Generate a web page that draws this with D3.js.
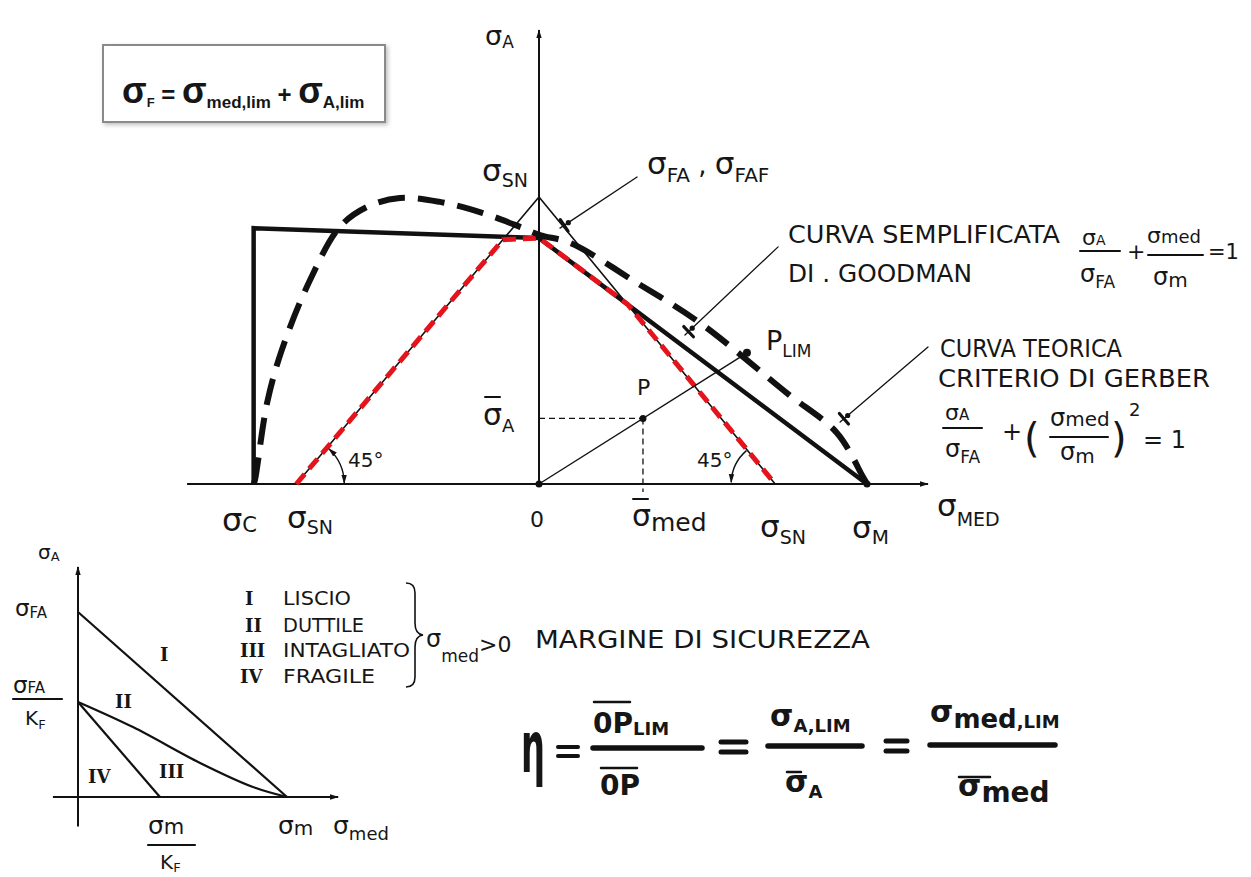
<!DOCTYPE html>
<html>
<head>
<meta charset="utf-8">
<script src="https://cdn.jsdelivr.net/npm/d3@7"></script>
<style>
  body { margin: 0; background: #fff; }
  svg { display: block; }
  text { font-family: "DejaVu Sans", sans-serif; fill: #161616; }
</style>
</head>
<body>
<svg id="c" width="1251" height="877"></svg>
<script>
// ---- Haigh diagram data (σmed and σA in % of σM) ----
const axisMed = [-107.3, 119.2];          // extent of the σmed axis
const axisAmp = 139;                       // top of the σA axis
const envelope = [[-87, 0], [-87, 78], [0, 75], [100, 0]];          // simplified Goodman envelope
const yieldTriangle = [[-74, 0], [0, 87.5], [72, 0]];               // σSN limits
const safeRegion = [[-74, 0], [-11, 74.5], [0, 75], [27, 54.8], [72, 0]];
const gerber = [[-87, 0], [-86.6, 1.2], [-82.9, 24.7], [-78.4, 40.9], [-69.8, 62.2], [-60.7, 78.4],
  [-52.4, 84.5], [-42.4, 87.2], [-30.2, 86.0], [-17.1, 82.6], [-5.8, 78.4], [0.3, 75.9],
  [9.5, 73.5], [29.9, 61.3], [49.1, 49.1], [75.6, 27.7], [90.9, 15.5], [98.8, 2.1], [100, 0]];
const pointO = [0, 0];
const pointP = [31.7, 20];
const pointPlim = [63.4, 40];
const pointM = [100, 0];
// leader lines: [label end, curve end]
const leaders = [
  [[29.9, 93.6], [6.4, 78]],     // σFA, σFAF
  [[72.9, 72.3], [44.5, 45.4]],  // Goodman
  [[118.6, 41.8], [91.8, 18.9]]  // Gerber
];

// ---- small diagram data (σmed in % of σm, σA in % of σFA) ----
const smallAxisMed = [-12, 125.4];
const smallAxisAmp = [-16, 125.4];
const lineLiscio = [[0, 100], [100, 0]];
const lineIntagliato = [[0, 51.4], [26.3, 37.8], [58.4, 18.4], [83.7, 5.4], [100, 0]];
const lineFragile = [[0, 51.4], [39.2, 0]];
const romans = ["I", "II", "III", "IV"];
const surfaces = ["LISCIO", "DUTTILE", "INTAGLIATO", "FRAGILE"];

const svg = d3.select("#c");
svg.append("rect").attr("width", 1251).attr("height", 877).attr("fill", "#fff");

const defs = svg.append("defs");
defs.append("marker").attr("id", "arr").attr("viewBox", "0 0 10 6")
  .attr("refX", 9).attr("refY", 3).attr("markerWidth", 9).attr("markerHeight", 6)
  .attr("markerUnits", "userSpaceOnUse").attr("orient", "auto-start-reverse")
  .append("path").attr("d", "M0,0 L10,3 L0,6 Z").attr("fill", "#111");
const shadow = defs.append("filter").attr("id", "sh").attr("x", "-10%").attr("y", "-20%")
  .attr("width", "130%").attr("height", "150%");
shadow.append("feDropShadow").attr("dx", 2).attr("dy", 2).attr("stdDeviation", 2)
  .attr("flood-color", "#000").attr("flood-opacity", 0.25);

// ---- helpers ----
function rich(g, px, py, parts, o = {}) {
  const t = g.append("text").attr("x", px).attr("y", py);
  if (o.weight) t.attr("font-weight", o.weight);
  if (o.family) t.style("font-family", o.family);
  if (o.anchor) t.attr("text-anchor", o.anchor);
  let cur = 0;
  parts.forEach(([s, size, dy = 0]) => {
    t.append("tspan").attr("font-size", size).attr("dy", dy - cur).text(s);
    cur = dy;
  });
  return t;
}
// hand-lettered capitals: slightly tall, evenly spaced
function caps(g, px, py, s, size, width) {
  return g.append("text").attr("transform", `translate(${px},${py}) scale(1,1.15)`)
    .attr("font-size", size).attr("textLength", width).attr("lengthAdjust", "spacingAndGlyphs").text(s);
}
function roman(g, px, py, s, size) {
  return g.append("text").attr("x", px).attr("y", py).attr("font-size", size)
    .attr("font-weight", "bold").style("font-family", "'DejaVu Serif', serif").text(s);
}
function seg(g, x1, y1, x2, y2, w, color = "#111") {
  return g.append("line").attr("x1", x1).attr("y1", y1).attr("x2", x2).attr("y2", y2)
    .attr("stroke", color).attr("stroke-width", w).attr("stroke-linecap", "round");
}

// ---- top-left formula box ----
const box = svg.append("g");
box.append("rect").attr("x", 103).attr("y", 45).attr("width", 282).attr("height", 77)
  .attr("fill", "#fff").attr("stroke", "#8a8a8a").attr("stroke-width", 2).attr("filter", "url(#sh)");
rich(box, 122, 103, [["σ", 36], ["F", 13, 4], [" = ", 24, 0], ["σ", 36, 0], ["med,lim", 17, 5],
  [" + ", 24, 0], ["σ", 36, 0], ["A,lim", 17, 5]], { weight: "bold", family: "'Liberation Sans', Arial, sans-serif" });

// ---- main Haigh diagram ----
const x = d3.scaleLinear().domain([0, 100]).range([539, 867]);
const y = d3.scaleLinear().domain([0, 100]).range([484, 156]);
const line = d3.line().x(d => x(d[0])).y(d => y(d[1]));
const main = svg.append("g");

// axes
main.append("line").attr("x1", x(axisMed[0])).attr("x2", x(axisMed[1]) - 2)
  .attr("y1", y(0)).attr("y2", y(0)).attr("stroke", "#111").attr("stroke-width", 2.2)
  .attr("marker-end", "url(#arr)");
main.append("line").attr("x1", x(0)).attr("x2", x(0)).attr("y1", y(0)).attr("y2", y(axisAmp) + 2)
  .attr("stroke", "#111").attr("stroke-width", 2).attr("marker-end", "url(#arr)");

// thin σSN triangle
main.append("path").attr("d", line(yieldTriangle)).attr("fill", "none")
  .attr("stroke", "#111").attr("stroke-width", 1.6);

// simplified envelope
main.append("path").attr("d", line(envelope)).attr("fill", "none")
  .attr("stroke", "#111").attr("stroke-width", 4.5).attr("stroke-linejoin", "miter");

// safe region (red dashed)
main.append("path").attr("d", line(safeRegion)).attr("fill", "none")
  .attr("stroke", "#e3141c").attr("stroke-width", 5).attr("stroke-dasharray", "13 7");

// Gerber parabola (thick dashed)
main.append("path").attr("d", line.curve(d3.curveCatmullRom)(gerber)).attr("fill", "none")
  .attr("stroke", "#111").attr("stroke-width", 6).attr("stroke-dasharray", "27 13");
line.curve(d3.curveLinear);

// load line O–P–Plim and projections of P
main.append("line").attr("x1", x(pointO[0])).attr("y1", y(pointO[1]))
  .attr("x2", x(pointPlim[0])).attr("y2", y(pointPlim[1])).attr("stroke", "#111").attr("stroke-width", 1.4);
main.append("line").attr("x1", x(0)).attr("y1", y(pointP[1])).attr("x2", x(pointP[0])).attr("y2", y(pointP[1]))
  .attr("stroke", "#111").attr("stroke-width", 1.3).attr("stroke-dasharray", "6 4");
main.append("line").attr("x1", x(pointP[0])).attr("y1", y(pointP[1])).attr("x2", x(pointP[0])).attr("y2", y(0) + 8)
  .attr("stroke", "#111").attr("stroke-width", 1.3).attr("stroke-dasharray", "6 4");

[pointO, pointP, pointM].forEach(p => main.append("circle").attr("cx", x(p[0])).attr("cy", y(p[1]))
  .attr("r", 3.5).attr("fill", "#111"));
main.append("circle").attr("cx", x(pointPlim[0])).attr("cy", y(pointPlim[1])).attr("r", 4).attr("fill", "#111");

// leader lines with end ticks
leaders.forEach(([a, b]) => {
  const x1 = x(a[0]), y1 = y(a[1]), x2 = x(b[0]), y2 = y(b[1]);
  seg(main, x1, y1, x2, y2, 1.3);
  const L = Math.hypot(x1 - x2, y1 - y2), ux = (x1 - x2) / L, uy = (y1 - y2) / L;
  const px = -uy, py = ux, cx = x2 + ux * 5, cy = y2 + uy * 5;
  seg(main, cx - px * 7, cy - py * 7, cx + px * 7, cy + py * 7, 3.2);
  main.append("circle").attr("cx", x2 + ux * 10).attr("cy", y2 + uy * 10).attr("r", 2.6).attr("fill", "#111");
});

// 45° angle arcs
const arcL = d3.path(); arcL.arc(x(-74), y(0), 48, -0.02, -0.82, true);
main.append("path").attr("d", arcL.toString()).attr("fill", "none").attr("stroke", "#111")
  .attr("stroke-width", 1.4).attr("marker-start", "url(#arr)").attr("marker-end", "url(#arr)");
const arcR = d3.path(); arcR.arc(x(72), y(0), 44, Math.PI + 0.86, Math.PI + 0.04, true);
main.append("path").attr("d", arcR.toString()).attr("fill", "none").attr("stroke", "#111")
  .attr("stroke-width", 1.4).attr("marker-end", "url(#arr)");

// main labels
const T = svg.append("g");
rich(T, 485, 45, [["σ", 27], ["A", 17, 3]]);
rich(T, 482, 181, [["σ", 31], ["SN", 19, 6]]);
rich(T, 647, 174, [["σ", 31], ["FA", 20, 8], [" , ", 26, 0], ["σ", 31, 0], ["FAF", 20, 8]]);
rich(T, 222, 531, [["σ", 32], ["C", 21, 1]]);
rich(T, 287, 528, [["σ", 31], ["SN", 19, 6]]);
rich(T, 537, 527, [["0", 22]], { anchor: "middle" });
rich(T, 632, 526, [["σ", 30], ["med", 25, 5]]);
seg(T, 633, 499, 648, 499, 2);
rich(T, 760, 537, [["σ", 31], ["SN", 19, 7]]);
rich(T, 852, 538, [["σ", 31], ["M", 20, 6]]);
rich(T, 937, 516, [["σ", 31], ["MED", 19, 10]]);
rich(T, 483, 425, [["σ", 30], ["A", 18, 7]]);
seg(T, 485, 397, 500, 397, 2);
rich(T, 637, 395, [["P", 22]]);
rich(T, 766, 350, [["P", 27], ["LIM", 17, 7]]);
rich(T, 348, 467, [["45°", 20]]);
rich(T, 697, 467, [["45°", 20]]);

// Goodman annotation
caps(T, 788, 243, "CURVA SEMPLIFICATA", 22, 272);
caps(T, 788, 282, "DI . GOODMAN", 22, 184);
rich(T, 1082, 245, [["σ", 22], ["A", 14, 0]]);
seg(T, 1080, 251, 1120, 251, 2);
rich(T, 1080, 282, [["σ", 24], ["FA", 17, 6]]);
rich(T, 1127, 259, [["+", 22]]);
rich(T, 1147, 243, [["σ", 22], ["med", 18, 0]]);
seg(T, 1148, 255, 1203, 255, 2);
rich(T, 1153, 285, [["σ", 24], ["m", 20, 2]]);
rich(T, 1208, 259, [["=1", 21]]);

// Gerber annotation
caps(T, 940, 357, "CURVA TEORICA", 22, 182);
caps(T, 938, 387, "CRITERIO DI GERBER", 22, 272);
rich(T, 945, 420, [["σ", 22], ["A", 15, 0]]);
seg(T, 943, 428, 982, 428, 2);
rich(T, 945, 457, [["σ", 24], ["FA", 17, 6]]);
rich(T, 1002, 440, [["+", 24]]);
rich(T, 1024, 452, [["(", 40]]);
rich(T, 1050, 426, [["σ", 24], ["med", 20, 0]]);
seg(T, 1050, 437, 1108, 437, 2);
rich(T, 1060, 460, [["σ", 24], ["m", 20, 3]]);
rich(T, 1111, 452, [[")", 40]]);
rich(T, 1129, 416, [["2", 18]]);
rich(T, 1143, 448, [["= 1", 24]]);

// ---- small diagram (notch sensitivity) ----
const sx = d3.scaleLinear().domain([0, 100]).range([78, 287]);
const sy = d3.scaleLinear().domain([0, 100]).range([797, 612]);
const sline = d3.line().x(d => sx(d[0])).y(d => sy(d[1]));
const sm = svg.append("g");
sm.append("line").attr("x1", sx(smallAxisMed[0])).attr("x2", sx(smallAxisMed[1]) - 2)
  .attr("y1", sy(0)).attr("y2", sy(0)).attr("stroke", "#111").attr("stroke-width", 2)
  .attr("marker-end", "url(#arr)");
sm.append("line").attr("x1", sx(0)).attr("x2", sx(0)).attr("y1", sy(smallAxisAmp[0]))
  .attr("y2", sy(smallAxisAmp[1]) + 2).attr("stroke", "#111").attr("stroke-width", 2)
  .attr("marker-end", "url(#arr)");
sm.append("path").attr("d", sline(lineLiscio)).attr("fill", "none").attr("stroke", "#111").attr("stroke-width", 2.2);
sm.append("path").attr("d", sline.curve(d3.curveCatmullRom)(lineIntagliato)).attr("fill", "none")
  .attr("stroke", "#111").attr("stroke-width", 2.2);
sline.curve(d3.curveLinear);
sm.append("path").attr("d", sline(lineFragile)).attr("fill", "none").attr("stroke", "#111").attr("stroke-width", 2.2);

rich(sm, 38, 559, [["σ", 20], ["A", 13, 2]]);
rich(sm, 15, 616, [["σ", 23], ["FA", 15, 2]]);
rich(sm, 13, 693, [["σ", 23], ["FA", 15, 0]]);
seg(sm, 13, 699, 62, 699, 2.2);
rich(sm, 25, 725, [["K", 20], ["F", 13, 4]]);
rich(sm, 148, 834, [["σ", 25], ["m", 21, 0]]);
seg(sm, 148, 845, 195, 845, 2.2);
rich(sm, 160, 869, [["K", 20], ["F", 13, 3]]);
rich(sm, 278, 834, [["σ", 25], ["m", 20, 1]]);
rich(sm, 333, 834, [["σ", 25], ["med", 18, 6]]);
// region numerals inside the diagram
roman(sm, 160, 661, romans[0], 18);
roman(sm, 115, 708, romans[1], 18);
roman(sm, 159, 778, romans[2], 18);
roman(sm, 88, 783, romans[3], 18);

// legend of the curves
const legendY = [605, 632, 657, 683];
const legendX = [245, 245, 240, 240];
const legendW = [68, 81, 127, 92];
romans.forEach((r, i) => roman(sm, legendX[i], legendY[i], r, 18));
surfaces.forEach((s, i) => caps(sm, 283, legendY[i], s, 17, legendW[i]));
sm.append("path").attr("d", "M406,583 q9,0 9,10 v30 q0,11 8,12 q-8,1 -8,12 v30 q0,10 -9,10")
  .attr("fill", "none").attr("stroke", "#111").attr("stroke-width", 1.6);
rich(sm, 426, 647, [["σ", 24], ["med", 17, 15], [">0", 22, 5]]);
caps(sm, 535, 648, "MARGINE DI SICUREZZA", 22, 335);

// ---- safety factor ----
const F = svg.append("g");
F.append("text").attr("x", 521).attr("y", 772).attr("font-size", 72).attr("font-weight", "bold")
  .attr("textLength", 24).attr("lengthAdjust", "spacingAndGlyphs").text("η");
seg(F, 558, 747, 578, 747, 4); seg(F, 558, 756, 578, 756, 4);
seg(F, 593, 748, 702, 748, 5.5);
rich(F, 593, 733, [["0P", 28], ["LIM", 18, 2]], { weight: "bold" });
seg(F, 594, 702, 630, 702, 2.5);
rich(F, 600, 795, [["0P", 28]], { weight: "bold" });
seg(F, 601, 768, 637, 768, 2.5);
seg(F, 721, 742, 746, 742, 5); seg(F, 721, 752, 746, 752, 5);
seg(F, 768, 746, 862, 746, 5.5);
rich(F, 770, 726, [["σ", 30], ["A,LIM", 18, 6]], { weight: "bold" });
rich(F, 785, 792, [["σ", 30], ["A", 18, 6]], { weight: "bold" });
seg(F, 787, 772, 801, 772, 2.5);
seg(F, 886, 741, 907, 741, 5); seg(F, 886, 751, 907, 751, 5);
seg(F, 930, 745, 1055, 745, 5.5);
rich(F, 930, 722, [["σ", 30], ["med", 26, 6], [",LIM", 18, 6]], { weight: "bold" });
rich(F, 958, 796, [["σ", 30], ["med", 28, 6]], { weight: "bold" });
seg(F, 959, 777, 990, 777, 2.5);
</script>
</body>
</html>
